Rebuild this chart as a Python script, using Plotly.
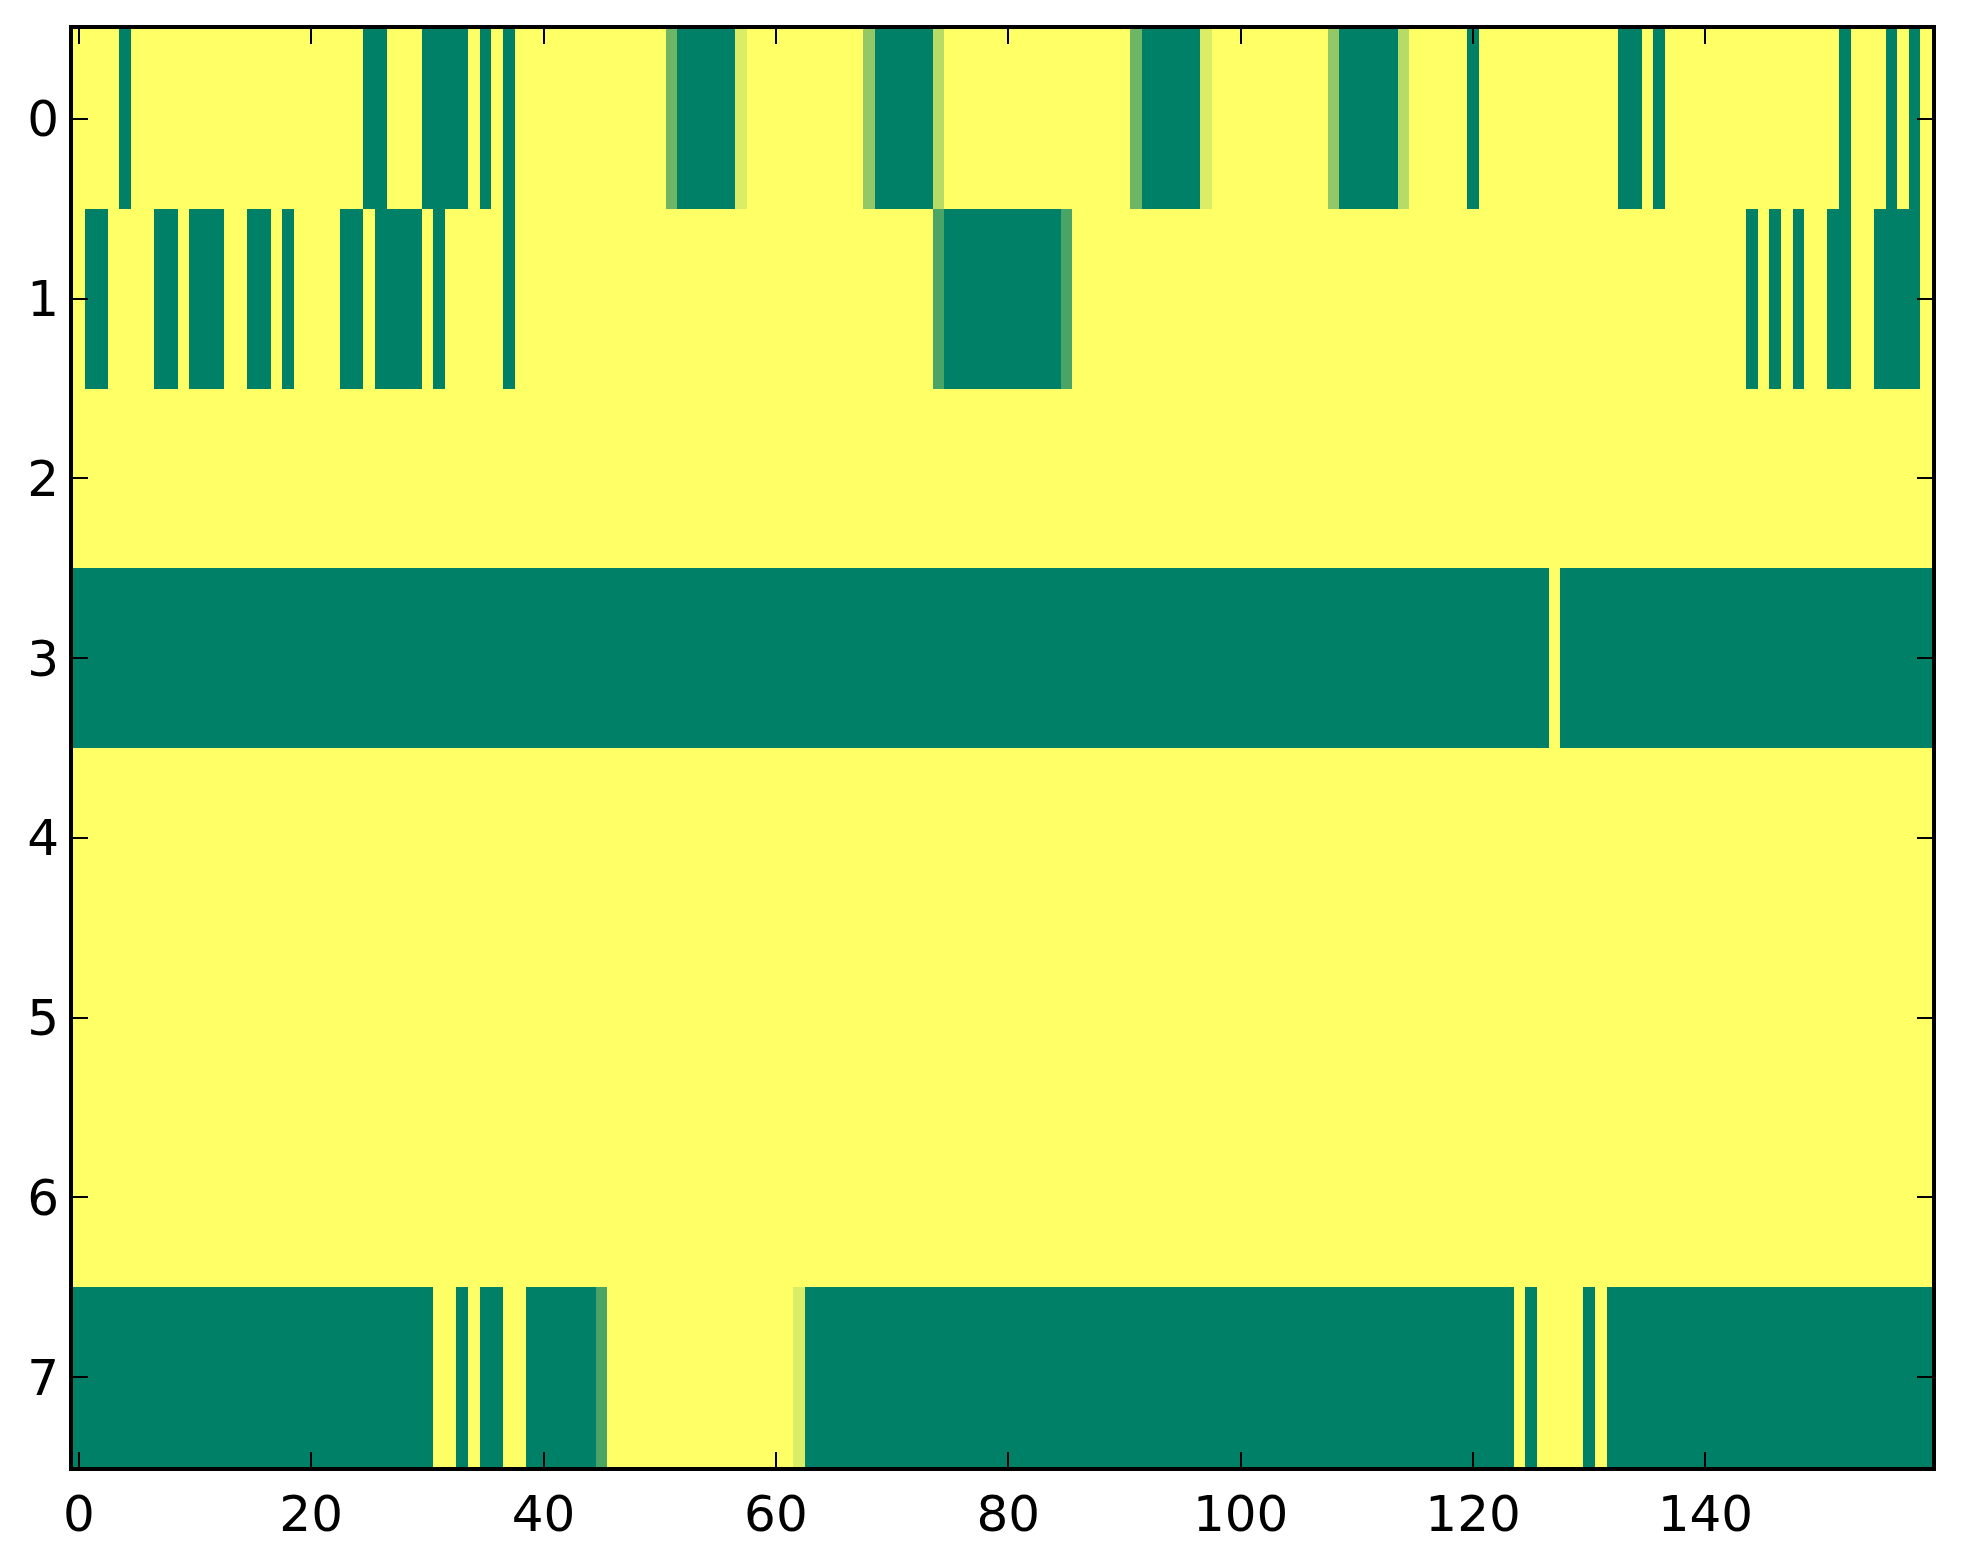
import plotly.graph_objects as go

# valores de la matriz, como tramos (valor, repeticiones)
fila_0 = [(1, 4), (0, 1), (1, 20), (0, 2), (1, 3), (0, 4), (1, 1), (0, 1), (1, 1), (0, 1),
          (1, 13), (3 / 7, 1), (0, 5), (6 / 7, 1), (1, 10), (4 / 7, 1), (0, 5), (5 / 7, 1),
          (1, 16), (3 / 7, 1), (0, 5), (6 / 7, 1), (1, 10), (4 / 7, 1), (0, 5), (5 / 7, 1),
          (1, 5), (0, 1), (1, 12), (0, 2), (1, 1), (0, 1), (1, 15), (0, 1), (1, 3), (0, 1),
          (1, 1), (0, 1), (1, 1)]
fila_1 = [(1, 1), (0, 2), (1, 4), (0, 2), (1, 1), (0, 3), (1, 2), (0, 2), (1, 1), (0, 1),
          (1, 4), (0, 2), (1, 1), (0, 4), (1, 1), (0, 1), (1, 5), (0, 1), (1, 36), (2 / 7, 1),
          (0, 10), (2 / 7, 1), (1, 58), (0, 1), (1, 1), (0, 1), (1, 1), (0, 1), (1, 2), (0, 2),
          (1, 2), (0, 4), (1, 1)]
fila_2 = [(1, 160)]
fila_3 = [(0, 127), (1, 1), (0, 32)]
fila_4 = [(1, 160)]
fila_5 = [(1, 160)]
fila_6 = [(1, 160)]
fila_7 = [(0, 31), (1, 2), (0, 1), (1, 1), (0, 2), (1, 2), (0, 6), (2 / 7, 1), (1, 16),
          (6 / 7, 1), (0, 61), (1, 1), (0, 1), (1, 4), (0, 1), (1, 1), (0, 28)]

filas = [fila_0, fila_1, fila_2, fila_3, fila_4, fila_5, fila_6, fila_7]
x_ticks = [0, 20, 40, 60, 80, 100, 120, 140]
y_ticks = [0, 1, 2, 3, 4, 5, 6, 7]


def expandir(tramos):
    valores = []
    for v, n in tramos:
        valores.extend([v] * n)
    return valores


z = [expandir(f) for f in filas]

# colormap "summer" de matplotlib
summer = [[0, "rgb(0,128,102)"], [1, "rgb(255,255,102)"]]

fig = go.Figure(
    go.Heatmap(
        z=z,
        x=list(range(len(z[0]))),
        y=list(range(len(z))),
        colorscale=summer,
        zmin=0,
        zmax=1,
        showscale=False,
        hoverinfo="skip",
    )
)

ejes = dict(
    showline=True,
    linecolor="black",
    linewidth=4,
    mirror="ticks",
    ticks="inside",
    ticklen=15,
    tickwidth=2,
    tickcolor="black",
    showgrid=False,
    zeroline=False,
    tickfont=dict(family="DejaVu Sans", size=50, color="black"),
)

fig.update_xaxes(range=[-0.5, 159.5], tickvals=x_ticks, **ejes)
fig.update_yaxes(range=[7.5, -0.5], tickvals=y_ticks, **ejes)

# la pagina deja 8px de margen en el body, se descuenta aqui
fig.update_layout(
    width=1947,
    height=1548,
    margin=dict(l=65, r=23, t=21, b=89),
    paper_bgcolor="white",
    plot_bgcolor="white",
)

fig.write_html("out.html")
